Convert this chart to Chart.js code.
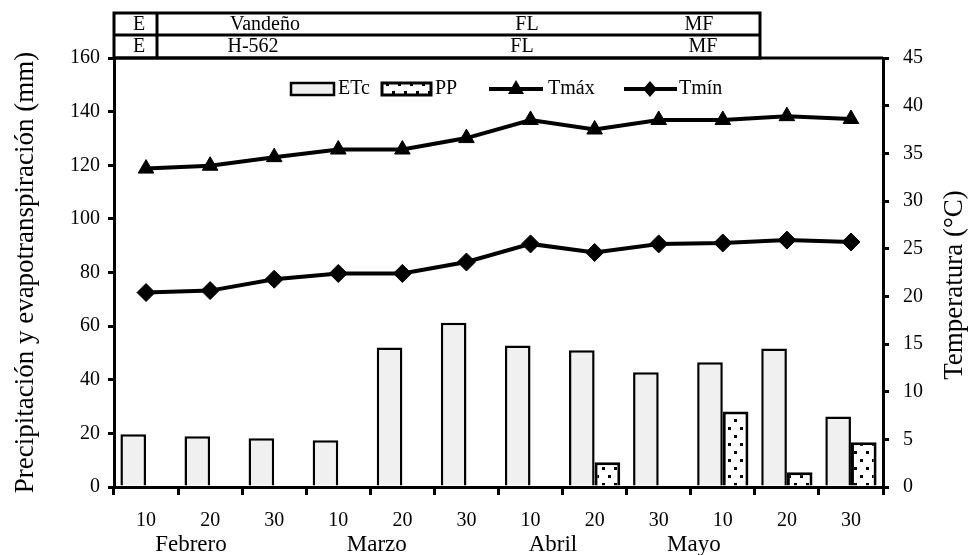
<!DOCTYPE html>
<html>
<head>
<meta charset="utf-8">
<script src="https://cdn.jsdelivr.net/npm/chart.js@4"></script>
<style>
  body { margin: 0; background: #fff; }
  #wrap { width: 972px; height: 555px; }
</style>
</head>
<body>
<div id="wrap"><canvas id="chart-1" width="972" height="555"></canvas></div>
<script>
// decades (day of month) on the x axis
const labels = ['10', '20', '30', '10', '20', '30', '10', '20', '30', '10', '20', '30'];
const months = ['Febrero', 'Marzo', 'Abril', 'Mayo'];
const monthAt = [0.7, 3.6, 6.35, 8.55]; // category index under each month name

const etc = [19.7, 18.9, 18.2, 17.4, 52, 61.3, 52.8, 51, 42.8, 46.5, 51.7, 26.3];
const pp = [0, 0, 0, 0, 0, 0, 0, 9.2, 0.6, 28.2, 5.5, 16.7];
const tmax = [33.4, 33.7, 34.6, 35.4, 35.4, 36.6, 38.5, 37.5, 38.5, 38.5, 38.9, 38.6];
const tmin = [20.4, 20.6, 21.8, 22.4, 22.4, 23.6, 25.5, 24.6, 25.5, 25.6, 25.9, 25.7];

const tableRows = [
  ['E', 'Vandeño', 'FL', 'MF'],
  ['E', 'H-562', 'FL', 'MF']
];

const FONT = 'Liberation Serif';

function dotPattern(){
  const c = document.createElement('canvas');
  c.width = 12; c.height = 16;
  const g = c.getContext('2d');
  g.fillStyle = '#fff';
  g.fillRect(0, 0, 12, 16);
  g.fillStyle = '#000';
  g.fillRect(2, 3, 3, 3);
  g.fillRect(8, 11, 3, 3);
  return g.createPattern(c, 'repeat');
}

const ctx = document.getElementById('chart-1');
const pattern = dotPattern();

// table above the plot, month names, legend, right title and top frame line
const extras = {
  id: 'extras',
  afterDraw(chart){
    const c = chart.ctx;
    const a = chart.chartArea;
    c.save();
    c.strokeStyle = '#000';
    c.fillStyle = '#000';

    // top border of plot
    c.lineWidth = 3;
    c.beginPath();
    c.moveTo(a.left, a.top);
    c.lineTo(a.right, a.top);
    c.stroke();

    // table
    const tl = a.left, tr = 760, tt = 13, tm = 35, tb = a.top;
    c.lineWidth = 3;
    c.strokeRect(tl, tt, tr - tl, tb - tt);
    c.beginPath();
    c.moveTo(tl, tm); c.lineTo(tr, tm);
    c.moveTo(157, tt); c.lineTo(157, tb);
    c.stroke();
    c.font = '20px "' + FONT + '"';
    c.textAlign = 'center';
    c.textBaseline = 'middle';
    const colX = [[139, 265, 527, 699], [139, 253, 522, 703]];
    const rowY = [25, 47];
    tableRows.forEach((row, r) => {
      row.forEach((t, i) => c.fillText(t, colX[r][i], rowY[r]));
    });

    // month names
    const xs = chart.scales.x;
    c.font = '23px "' + FONT + '"';
    months.forEach((m, i) => {
      c.fillText(m, xs.getPixelForValue(monthAt[i]), 545);
    });

    // right axis title, reading bottom to top
    c.save();
    c.translate(955, 285);
    c.rotate(-Math.PI / 2);
    c.font = '27px "' + FONT + '"';
    c.fillText('Temperatura (°C)', 0, 0);
    c.restore();

    // legend
    const ly = 89;
    c.font = '20px "' + FONT + '"';
    c.textAlign = 'left';
    c.lineWidth = 2.5;
    c.fillStyle = '#f0f0f0';
    c.fillRect(291, ly - 6, 43, 12);
    c.strokeRect(291, ly - 6, 43, 12);
    c.fillStyle = '#000';
    c.fillText('ETc', 338, ly);

    c.lineWidth = 3;
    c.fillStyle = pattern;
    c.fillRect(382, ly - 6, 49, 12);
    c.strokeRect(382, ly - 6, 49, 12);
    c.fillStyle = '#000';
    c.fillText('PP', 435, ly);

    c.lineWidth = 4;
    c.beginPath();
    c.moveTo(489, ly); c.lineTo(543, ly);
    c.moveTo(624, ly); c.lineTo(677, ly);
    c.stroke();
    c.beginPath();
    c.moveTo(516, ly - 9); c.lineTo(524, ly + 5); c.lineTo(508, ly + 5); c.closePath();
    c.fill();
    c.beginPath();
    c.moveTo(650, ly - 8); c.lineTo(657, ly); c.lineTo(650, ly + 8); c.lineTo(643, ly); c.closePath();
    c.fill();
    c.fillText('Tmáx', 548, ly);
    c.fillText('Tmín', 679, ly);
    c.restore();
  }
};

const tickFont = { family: FONT, size: 20 };

new Chart(ctx, {
  type: 'bar',
  data: {
    labels: labels,
    datasets: [
      {
        type: 'line', label: 'Tmáx', data: tmax, yAxisID: 'y2', order: 1,
        borderColor: '#000', backgroundColor: '#000', borderWidth: 4,
        pointStyle: 'triangle', pointRadius: 9, pointBackgroundColor: '#000', pointBorderWidth: 1,
        tension: 0
      },
      {
        type: 'line', label: 'Tmín', data: tmin, yAxisID: 'y2', order: 1,
        borderColor: '#000', backgroundColor: '#000', borderWidth: 4,
        pointStyle: 'rectRot', pointRadius: 9, pointBackgroundColor: '#000', pointBorderWidth: 1,
        tension: 0
      },
      {
        label: 'ETc', data: etc, yAxisID: 'y', order: 2,
        backgroundColor: '#f0f0f0', borderColor: '#000', borderWidth: 2.5,
        categoryPercentage: 0.8, barPercentage: 1.0
      },
      {
        label: 'PP', data: pp, yAxisID: 'y', order: 2,
        backgroundColor: pattern, borderColor: '#000', borderWidth: 3,
        categoryPercentage: 0.8, barPercentage: 1.0
      }
    ]
  },
  options: {
    responsive: false,
    animation: false,
    layout: { padding: { top: 58, left: 0, right: 0, bottom: 0 } },
    plugins: {
      legend: { display: false },
      tooltip: { enabled: false }
    },
    scales: {
      x: {
        offset: true,
        grid: { offset: true, drawOnChartArea: false, tickLength: 8, lineWidth: 3, color: '#000' },
        border: { width: 3, color: '#000' },
        ticks: { font: tickFont, color: '#000', padding: 14, maxRotation: 0 },
        afterFit(s){ s.height = 68; }
      },
      y: {
        position: 'left', min: 0, max: 160,
        grid: { drawOnChartArea: false, tickLength: 6, lineWidth: 3, color: '#000' },
        border: { width: 3, color: '#000' },
        ticks: { stepSize: 20, font: tickFont, color: '#000', padding: 8 },
        title: {
          display: true, text: 'Precipitación y evapotranspiración (mm)',
          font: { family: FONT, size: 27 }, color: '#000', padding: { top: 10, bottom: 0 }
        },
        afterFit(s){ s.width = 114; }
      },
      y2: {
        position: 'right', min: 0, max: 45,
        grid: { drawOnChartArea: false, tickLength: 6, lineWidth: 3, color: '#000' },
        border: { width: 3, color: '#000' },
        ticks: { stepSize: 5, font: tickFont, color: '#000', padding: 14 },
        afterFit(s){ s.width = 89; }
      }
    }
  },
  plugins: [extras]
});
</script>
</body>
</html>
